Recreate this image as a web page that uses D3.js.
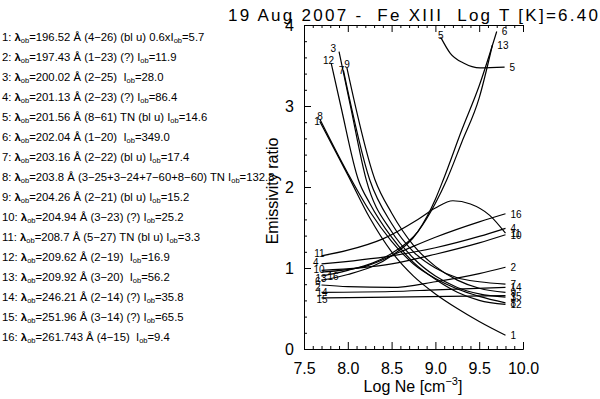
<!DOCTYPE html>
<html>
<head>
<meta charset="UTF-8">
<script src="https://d3js.org/d3.v7.min.js"></script>
<style>
  body { margin: 0; background: #fff; }
  svg { display: block; font-family: "Liberation Sans", Arial, sans-serif; }
</style>
</head>
<body>
<svg width="600" height="399"></svg>
<script>
// list of observed lines (left panel)
const lineNums = ["1","2","3","4","5","6","7","8","9","10","11","12","13","14","15","16"];
const lineWave = ["196.52","197.43","200.02","201.13","201.56","202.04","203.16","203.8",
                  "204.26","204.94","208.7","209.62","209.92","246.21","251.96","261.743"];
const lineTrans = ["(4\u221226) (bl u) 0.6x", "(1\u221223) (?) ", "(2\u221225)  ", "(2\u221223) (?) ",
                   "(8\u221261) TN (bl u) ", "(1\u221220)  ", "(2\u221222) (bl u) ",
                   "(3\u221225+3\u221224+7\u221260+8\u221260) TN ", "(2\u221221) (bl u) ",
                   "(3\u221223) (?) ", "(5\u221227) TN (bl u) ", "(2\u221219)  ", "(3\u221220)  ",
                   "(2\u221214) (?) ", "(3\u221214) (?) ", "(4\u221215)  "];
const lineInt = ["5.7","11.9","28.0","86.4","14.6","349.0","17.4","132.8",
                 "15.2","25.2","3.3","16.9","56.2","35.8","65.5","9.4"];

// emissivity ratio curves, [log Ne, ratio]
const ratio1  = [[7.68,2.81],[8.0,2.15],[8.25,1.62],[8.5,1.2],[8.75,0.9],[9.0,0.68],[9.25,0.5],[9.5,0.34],[9.8,0.17]];
const ratio2  = [[7.7,0.79],[8.0,0.77],[8.5,0.76],[9.0,0.83],[9.5,0.93],[9.8,1.01]];
const ratio3  = [[7.9,3.67],[8.03,3.0],[8.21,2.09],[8.5,1.45],[8.75,1.12],[9.0,0.9],[9.25,0.76],[9.5,0.68],[9.8,0.64]];
const ratio4  = [[7.7,1.05],[8.5,1.15],[9.0,1.25],[9.5,1.39],[9.8,1.49]];
const ratio5  = [[9.06,3.85],[9.17,3.65],[9.32,3.53],[9.51,3.47],[9.79,3.48]];
const ratio6  = [[7.7,0.85],[8.0,0.92],[8.5,1.15],[8.8,1.45],[9.0,1.85],[9.09,2.09],[9.3,2.7],[9.5,3.25],[9.7,3.92]];
const ratio7  = [[7.95,3.44],[8.25,2.09],[8.5,1.55],[8.75,1.2],[9.0,1.0],[9.25,0.88],[9.5,0.83],[9.8,0.8]];
const ratio8  = [[7.68,2.84],[8.0,2.17],[8.25,1.7],[8.5,1.33],[8.75,1.05],[9.0,0.87],[9.25,0.74],[9.5,0.65],[9.8,0.57]];
const ratio9  = [[7.99,3.47],[8.31,2.09],[8.5,1.68],[8.75,1.28],[9.0,1.02],[9.25,0.85],[9.5,0.75],[9.8,0.7]];
const ratio10 = [[7.7,0.97],[8.5,1.05],[9.0,1.17],[9.5,1.31],[9.8,1.41]];
const ratio11 = [[7.7,1.15],[8.0,1.22],[8.4,1.36],[8.8,1.6],[9.0,1.74],[9.2,1.83],[9.4,1.79],[9.62,1.65],[9.8,1.43]];
const ratio12 = [[7.81,3.53],[7.92,3.0],[8.12,2.09],[8.25,1.8],[8.5,1.38],[8.75,1.07],[9.0,0.86],[9.25,0.7],[9.5,0.6],[9.8,0.55]];
const ratio13 = [[7.7,0.9],[8.0,0.97],[8.5,1.18],[8.8,1.45],[9.0,1.8],[9.13,2.09],[9.3,2.55],[9.5,3.1],[9.65,3.75]];
const ratio14 = [[7.7,0.7],[8.5,0.71],[9.0,0.73],[9.8,0.76]];
const ratio15 = [[7.7,0.63],[8.5,0.64],[9.8,0.66]];
const ratio16 = [[7.7,0.95],[8.2,1.02],[8.6,1.2],[9.0,1.38],[9.5,1.57],[9.8,1.67]];
const curves = [ratio1, ratio2, ratio3, ratio4, ratio5, ratio6, ratio7, ratio8,
                ratio9, ratio10, ratio11, ratio12, ratio13, ratio14, ratio15, ratio16];

const xMajor = [7.5, 8.0, 8.5, 9.0, 9.5, 10.0];
const yMajor = [0, 1, 2, 3, 4];

const svg = d3.select("svg");
const x = d3.scaleLinear().domain([7.5, 10]).range([304, 523]);
const y = d3.scaleLinear().domain([0, 4]).range([349, 25]);

// title
svg.append("text")
  .attr("x", 228).attr("y", 21)
  .attr("font-size", 17)
  .attr("xml:space", "preserve")
  .attr("textLength", 370).attr("lengthAdjust", "spacing")
  .text("19 Aug 2007 -  Fe XIII  Log T [K]=6.40");

// left list
const list = svg.append("g").attr("font-size", 11.3);
lineNums.forEach((n, i) => {
  const t = list.append("text").attr("x", 2).attr("y", 41 + i * 20)
    .attr("xml:space", "preserve");
  t.append("tspan").text(n + ": ");
  t.append("tspan").attr("font-weight", "bold").text("\u03bb");
  t.append("tspan").attr("font-size", 7.5).attr("dy", 2).text("ob");
  t.append("tspan").attr("dy", -2).text("=" + lineWave[i] + " \u00c5 " + lineTrans[i] + "I");
  t.append("tspan").attr("font-size", 7.5).attr("dy", 2).text("ob");
  t.append("tspan").attr("dy", -2).text("=" + lineInt[i]);
});

// axes
const minorX = d3.range(75, 101).map(v => v / 10).filter(v => !xMajor.includes(v));
const minorY = d3.range(0, 21).map(v => v / 5).filter(v => !yMajor.includes(v));

function styleAxis(g) {
  g.selectAll("path, line").attr("stroke", "#000").attr("stroke-width", 1);
  g.selectAll("text").attr("fill", "#000").attr("font-size", 16)
    .attr("font-family", "'Liberation Sans', Arial, sans-serif");
}

svg.append("g").attr("transform", "translate(0,349)")
  .call(d3.axisBottom(x).tickValues(xMajor).tickSize(-7).tickSizeOuter(0).tickPadding(14)
        .tickFormat(d3.format(".1f")))
  .call(styleAxis);
svg.append("g").attr("transform", "translate(0,349)")
  .call(d3.axisBottom(x).tickValues(minorX).tickSize(-3).tickSizeOuter(0).tickFormat(""))
  .call(styleAxis);
svg.append("g").attr("transform", "translate(0,25)")
  .call(d3.axisTop(x).tickValues(xMajor).tickSize(-7).tickSizeOuter(0).tickFormat(""))
  .call(styleAxis);
svg.append("g").attr("transform", "translate(0,25)")
  .call(d3.axisTop(x).tickValues(minorX).tickSize(-3).tickSizeOuter(0).tickFormat(""))
  .call(styleAxis);
svg.append("g").attr("transform", "translate(304,0)")
  .call(d3.axisLeft(y).tickValues(yMajor).tickSize(-7).tickSizeOuter(0).tickPadding(10)
        .tickFormat(d3.format("d")))
  .call(styleAxis);
svg.append("g").attr("transform", "translate(304,0)")
  .call(d3.axisLeft(y).tickValues(minorY).tickSize(-3).tickSizeOuter(0).tickFormat(""))
  .call(styleAxis);

// axis titles
const xt = svg.append("text").attr("x", 413).attr("y", 392)
  .attr("text-anchor", "middle").attr("font-size", 16);
xt.append("tspan").text("Log Ne [cm");
xt.append("tspan").attr("font-size", 11).attr("dy", -7).text("\u22123");
xt.append("tspan").attr("dy", 7).text("]");

svg.append("text")
  .attr("transform", "translate(278,191) rotate(-90)")
  .attr("text-anchor", "middle").attr("font-size", 16)
  .text("Emissivity ratio");

// curves
const line = d3.line().x(d => x(d[0])).y(d => y(d[1])).curve(d3.curveMonotoneX);
svg.append("g").selectAll("path").data(curves).join("path")
  .attr("d", line)
  .attr("fill", "none").attr("stroke", "#000").attr("stroke-width", 1.2);

// curve labels: start labels nudged so they stack like the reference
const startShift = [[-3,2],[-4,4],[-6,-2],[-6,0],[0,0],[-4,3],[-2,2],[0,-1],
                    [0,-2],[0,1],[0,-1],[0,-1],[2,4],[3,2],[3,3],[14,6]];
svg.append("clipPath").attr("id", "plotclip")
  .append("rect").attr("x", 240).attr("y", 0).attr("width", 283).attr("height", 399);
const labs = svg.append("g").attr("clip-path", "url(#plotclip)").attr("font-size", 10);
curves.forEach((c, i) => {
  const s = c[0], e = c[c.length - 1];
  labs.append("text")
    .attr("x", x(s[0]) + 3 + startShift[i][0]).attr("y", y(s[1]) + 2 + startShift[i][1])
    .attr("text-anchor", "end").text(lineNums[i]);
  labs.append("text").attr("x", x(e[0]) + 5).attr("y", y(e[1]) + 4).text(lineNums[i]);
});
</script>
</body>
</html>
